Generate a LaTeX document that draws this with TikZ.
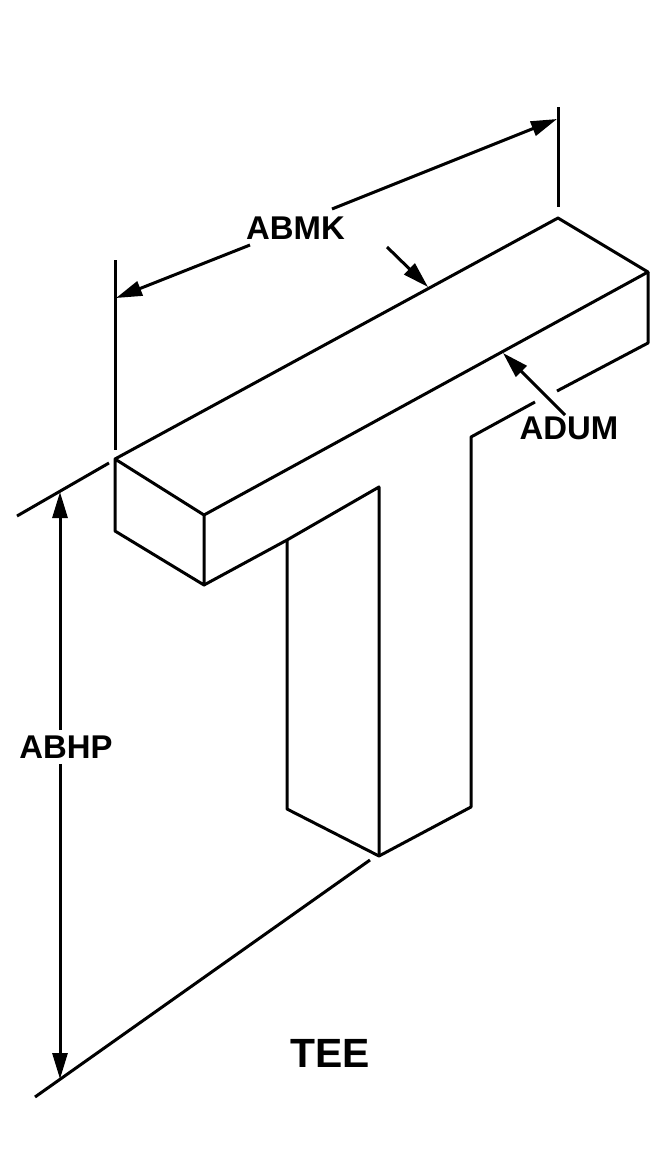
\documentclass[tikz,border=0pt]{standalone}
\usepackage{fontspec}
\setmainfont{Liberation Sans}
\usetikzlibrary{arrows.meta}
\tikzset{
  dimtip/.style={-{Triangle[length=26bp,width=15bp]}},
  dimlabel/.style={font=\bfseries\fontsize{33}{36}\selectfont,inner sep=0pt},
  titlelabel/.style={font=\bfseries\fontsize{41}{44}\selectfont,inner sep=0pt}
}
\begin{document}
\begin{tikzpicture}[x=1bp,y=-1bp,line width=3bp,line join=round]
\useasboundingbox (0,0) rectangle (664,1172);
\coordinate (backl) at (115,459);   % Points of the top bar
\coordinate (backr) at (558,218);
\coordinate (endr) at (648,272);
\coordinate (frontl) at (204,515);
\coordinate (lowl) at (115,531);
\coordinate (lowf) at (204,585);
\coordinate (lowr) at (648,343);
\coordinate (gapr) at (557,391);
\coordinate (gapl) at (535,402);
% Points of the stem
\coordinate (stemr) at (471,437);
\coordinate (footr) at (471,807);
\coordinate (foot) at (379,856);
\coordinate (footl) at (287,809);
\coordinate (steml) at (287,540);
\coordinate (notch) at (379,487);
% Draw the tee
\draw (backl) -- (backr) -- (endr) -- (frontl) -- (backl) -- (lowl) -- (lowf) -- (frontl);
\draw (endr) -- (lowr) -- (gapr);
\draw (steml) -- (footl) -- (foot) -- (footr) -- (stemr) -- (gapl);
\draw (lowf) -- (steml) -- (notch) -- (foot);
% Extension lines
\coordinate (extla) at (115,260);
\coordinate (extlb) at (115,450);
\coordinate (extra) at (558,107);
\coordinate (extrb) at (558,207);
\coordinate (exttl) at (17,516);
\coordinate (exttr) at (109,463);
\coordinate (extbl) at (35,1097);
\coordinate (extbr) at (370,860);
\draw (extla) -- (extlb);
\draw (extra) -- (extrb);
\draw (exttl) -- (exttr);
\draw (extbl) -- (extbr);
% Labels
\node[dimlabel] (abmk) at (295.5,228) {ABMK};
\node[dimlabel] (adum) at (569,428) {ADUM};
\node[dimlabel] (abhp) at (66,747) {ABHP};
\node[titlelabel] (tee) at (330.5,1053) {TEE};
% Arrow ends
\coordinate (abmkl) at (116,298);
\coordinate (abmkr) at (557,119);
\coordinate (abmka) at (250,245);
\coordinate (abmkb) at (332,209);
\coordinate (abhpt) at (60,492);
\coordinate (abhpb) at (60,1079);
\coordinate (widtha) at (387,247);
\coordinate (widthb) at (428,287);
\coordinate (aduma) at (565,415);
\coordinate (adumb) at (503,353);
% Dimension arrows
\draw[dimtip] (abmka) -- (abmkl);
\draw[dimtip] (abmkb) -- (abmkr);
\draw[dimtip] (widtha) -- (widthb);
\draw[dimtip] (aduma) -- (adumb);
\draw[dimtip] (abhp.north -| abhpt) ++(0,-4) -- (abhpt);
\draw[dimtip] (abhp.south -| abhpb) ++(0,4) -- (abhpb);
\end{tikzpicture}
\end{document}
